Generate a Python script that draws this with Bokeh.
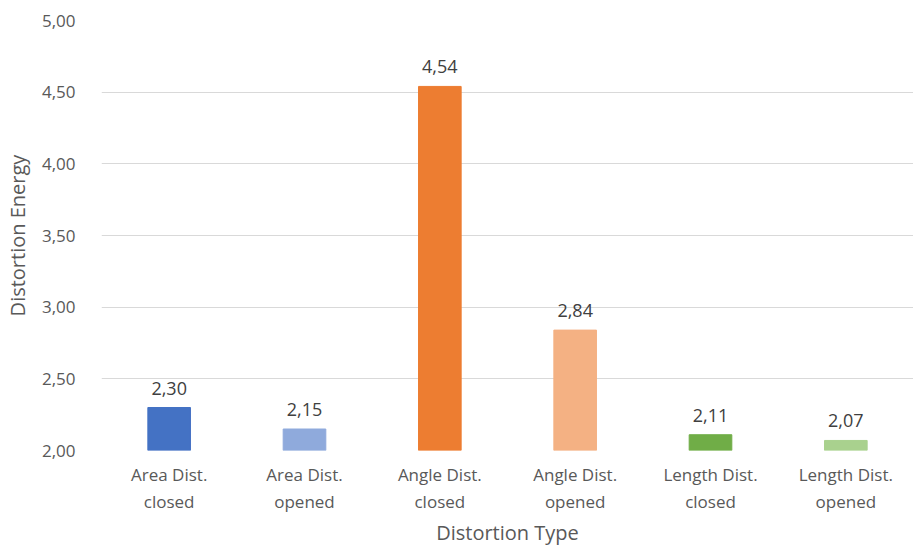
from bokeh.plotting import figure
from bokeh.models import ColumnDataSource, Range1d, FixedTicker, CustomJSTickFormatter
from bokeh.core.properties import value
from bokeh.embed import file_html
from bokeh.resources import INLINE

categories = ["Area Dist.\nclosed", "Area Dist.\nopened", "Angle Dist.\nclosed",
              "Angle Dist.\nopened", "Length Dist.\nclosed", "Length Dist.\nopened"]
energies = [2.30, 2.15, 4.54, 2.84, 2.11, 2.07]
bar_colors = ["#4472C4", "#8FAADC", "#ED7D31", "#F4B183", "#70AD47", "#A9D18E"]
y_ticks = [2.0, 2.5, 3.0, 3.5, 4.0, 4.5, 5.0]

FONT = "Open Sans"
TXT = "#595959"

src = ColumnDataSource(dict(
    cat=categories,
    top=energies,
    color=bar_colors,
    label=[f"{v:.2f}".replace(".", ",") for v in energies],
))

p = figure(x_range=categories, y_range=Range1d(2.0, 5.0),
           width=913, height=549, output_backend="svg", toolbar_location=None,
           min_border_left=97, min_border_right=0, min_border_top=20, min_border_bottom=98)
p.outline_line_color = None

p.vbar(x="cat", top="top", bottom=2.0, width=0.315, color="color", source=src)
p.text(x="cat", y="top", text="label", source=src, text_align="center",
       text_baseline="bottom", y_offset=-13, text_font=value(FONT),
       text_font_size="18px", text_color="#404040")

p.yaxis.ticker = FixedTicker(ticks=y_ticks)
p.yaxis.formatter = CustomJSTickFormatter(code="return tick.toFixed(2).replace('.', ',');")
p.ygrid.ticker = FixedTicker(ticks=y_ticks)
p.ygrid.grid_line_color = "#D9D9D9"
p.ygrid.grid_line_width = 1
p.xgrid.grid_line_color = None

for ax in (p.xaxis[0], p.yaxis[0]):
    ax.axis_line_color = None
    ax.major_tick_line_color = None
    ax.minor_tick_line_color = None
    ax.major_label_text_font = FONT
    ax.major_label_text_color = TXT
    ax.axis_label_text_font = FONT
    ax.axis_label_text_color = TXT
    ax.axis_label_text_font_size = "20px"
    ax.axis_label_text_font_style = "normal"

p.yaxis.major_label_text_font_size = "17px"
p.xaxis.major_label_text_font_size = "17px"

p.yaxis.axis_label = "Distortion Energy"
p.yaxis.major_label_standoff = 20
p.yaxis.axis_label_standoff = 8
p.xaxis.axis_label = "Distortion Type"
p.xaxis.major_label_standoff = 6
p.xaxis.axis_label_standoff = 3

open("out.html", "w").write(file_html(p, INLINE))
